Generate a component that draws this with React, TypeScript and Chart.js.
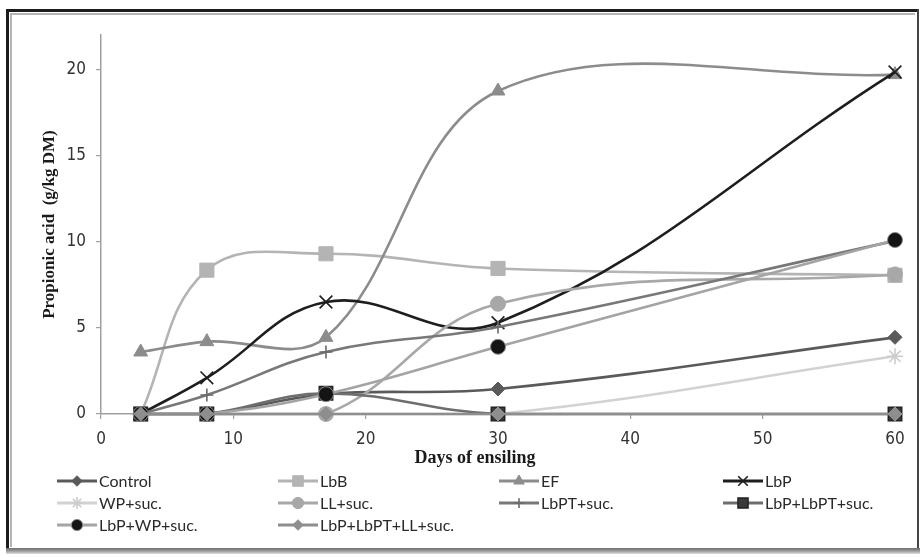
import React, { useEffect, useRef } from "react";
import { Chart, registerables } from "chart.js";
import { drawPoint } from "chart.js/helpers";

Chart.register(...registerables);

// ---- data ----
const days = [3, 8, 17, 30, 60];
const seriesNames = [
  "Control",
  "LbB",
  "EF",
  "LbP",
  "WP+suc.",
  "LL+suc.",
  "LbPT+suc.",
  "LbP+LbPT+suc.",
  "LbP+WP+suc.",
  "LbP+LbPT+LL+suc.",
];
const control = [0, 0, 1.15, 1.45, 4.45];
const lbB = [0, 8.35, 9.3, 8.45, 8.05];
const ef = [3.6, 4.2, 4.45, 18.75, 19.7];
const lbP = [0, 2.1, 6.5, 5.3, 19.85];
const wpSuc = [0, 0, 0, 0, 3.35];
const llSuc = [0, 0, 0, 6.4, 8.1];
const lbptSuc = [0, 1.1, 3.6, 5.05, 10.05];
const lbpLbptSuc = [0, 0, 1.2, 0, 0];
const lbpWpSuc = [0, 0, 1.15, 3.9, 10.1];
const lbpLbptLlSuc = [0, 0, 0, 0, 0];
const seriesValues = [control, lbB, ef, lbP, wpSuc, llSuc, lbptSuc, lbpLbptSuc, lbpWpSuc, lbpLbptLlSuc];
const xTicks = [0, 10, 20, 30, 40, 50, 60];
const yTicks = [0, 5, 10, 15, 20];
const xTitle = "Days of ensiling";
const yTitle = "Propionic acid  (g/kg DM)";

// ---- styles ----
const styles = [
  { line: "#5a5a5a", fill: "#5a5a5a", edge: "#5a5a5a", shape: "rectRot", r: 7, bw: 1, t: 0.4 },
  { line: "#b4b4b4", fill: "#b4b4b4", edge: "#b4b4b4", shape: "rect", r: 10, bw: 1, t: 0.4 },
  { line: "#8c8c8c", fill: "#8c8c8c", edge: "#8c8c8c", shape: "triangle", r: 8, bw: 1, t: 0.36 },
  { line: "#1e1e1e", fill: "#1e1e1e", edge: "#1e1e1e", shape: "crossRot", r: 9, bw: 1.6, t: 0.4 },
  { line: "#d2d2d2", fill: "#d2d2d2", edge: "#cccccc", shape: "star", r: 8, bw: 1.6, t: 0.4 },
  { line: "#a8a8a8", fill: "#a8a8a8", edge: "#a8a8a8", shape: "circle", r: 7.5, bw: 1, t: 0.4 },
  { line: "#787878", fill: "#787878", edge: "#6a6a6a", shape: "cross", r: 6.5, bw: 1.6, t: 0.4 },
  { line: "#6e6e6e", fill: "#3a3a3a", edge: "#222222", shape: "rect", r: 9.5, bw: 1.5, t: 0.4 },
  { line: "#a4a4a4", fill: "#141414", edge: "#8a8a8a", shape: "circle", r: 7.5, bw: 1, t: 0.4 },
  { line: "#8e8e8e", fill: "#8e8e8e", edge: "#8e8e8e", shape: "rectRot", r: 7, bw: 1, t: 0.4 },
];

const tickFont = "'Liberation Sans Narrow', 'DejaVu Sans Condensed', 'Liberation Sans', sans-serif";
const serifFont = "'Liberation Serif', 'DejaVu Serif', serif";
const legendFont = "Lato, 'Liberation Sans', sans-serif";

const legendCols = [99, 320, 541, 765];
const legendRows = [481, 503, 525];

const overlayPlugin = {
  id: "overlay",
  afterDraw(chart: any) {
    const ctx = chart.ctx as CanvasRenderingContext2D;
    const area = chart.chartArea;
    ctx.save();
    // axis titles
    ctx.fillStyle = "#1a1a1a";
    ctx.font = `bold 18px ${serifFont}`;
    ctx.textAlign = "center";
    ctx.textBaseline = "middle";
    ctx.fillText(xTitle, 475, 458);
    ctx.save();
    ctx.translate(50, (area.top + area.bottom) / 2);
    ctx.rotate(-Math.PI / 2);
    ctx.font = `bold 17px ${serifFont}`;
    ctx.fillText(yTitle, 0, 0);
    ctx.restore();

    // legend
    chart.data.datasets.forEach((ds: any, i: number) => {
      const st = styles[i];
      const tx = legendCols[i % 4];
      const ty = legendRows[Math.floor(i / 4)];
      ctx.strokeStyle = st.line;
      ctx.lineWidth = 3;
      ctx.beginPath();
      ctx.moveTo(tx - 42, ty);
      ctx.lineTo(tx - 2, ty);
      ctx.stroke();
      ctx.fillStyle = st.fill;
      ctx.strokeStyle = st.edge;
      ctx.lineWidth = st.bw;
      drawPoint(ctx, { pointStyle: st.shape, rotation: 0, radius: st.r * 0.75, borderWidth: st.bw } as any, tx - 22, ty);
      ctx.fillStyle = "#2a2a2a";
      ctx.font = `16px ${legendFont}`;
      ctx.textAlign = "left";
      ctx.textBaseline = "middle";
      ctx.fillText(ds.label, tx, ty + 1);
    });
    ctx.restore();
  },
};

export default function App() {
  const ref = useRef<HTMLCanvasElement | null>(null);
  useEffect(() => {
    if (!ref.current) return;
    const datasets = seriesNames.map((name, i) => {
      const st = styles[i];
      return {
        label: name,
        data: days.map((d, j) => ({ x: d, y: seriesValues[i][j] })),
        borderColor: st.line,
        backgroundColor: st.fill,
        borderWidth: 2.6,
        pointStyle: st.shape,
        pointRadius: st.r,
        pointBackgroundColor: st.fill,
        pointBorderColor: st.edge,
        pointBorderWidth: st.bw,
        tension: st.t,
        fill: false,
        clip: false,
        order: seriesNames.length - i,
      };
    });
    const chart = new Chart(ref.current, {
      type: "line",
      data: { datasets } as any,
      plugins: [overlayPlugin],
      options: {
        animation: false,
        responsive: false,
        events: [],
        layout: { padding: { top: 35, right: 25, left: 0, bottom: 0 } },
        plugins: { legend: { display: false }, tooltip: { enabled: false } },
        scales: {
          x: {
            type: "linear",
            min: 0,
            max: 60,
            afterFit: (s: any) => {
              s.height = 144;
            },
            afterBuildTicks: (s: any) => {
              s.ticks = xTicks.map((v) => ({ value: v }));
            },
            grid: { drawOnChartArea: false, drawTicks: true, tickLength: 5, color: "#a0a0a0", lineWidth: 1.2 },
            border: { display: true, color: "#a0a0a0", width: 1.5 },
            ticks: { color: "#333", font: { family: tickFont, size: 17 }, padding: 10, maxRotation: 0 },
          },
          y: {
            type: "linear",
            min: 0,
            max: 22,
            afterFit: (s: any) => {
              s.width = 101;
            },
            afterBuildTicks: (s: any) => {
              s.ticks = yTicks.map((v) => ({ value: v }));
            },
            grid: { drawOnChartArea: false, drawTicks: true, tickLength: 5, color: "#a0a0a0", lineWidth: 1.2 },
            border: { display: true, color: "#a0a0a0", width: 1.5 },
            ticks: { color: "#333", font: { family: tickFont, size: 17 }, padding: 10 },
          },
        },
      } as any,
    });
    return () => chart.destroy();
  }, []);

  return (
    <div style={{ position: "absolute", left: 0, top: 0, width: 920, height: 558, background: "#fff", overflow: "hidden" }}>
      <canvas ref={ref} width={920} height={558} style={{ position: "absolute", left: 0, top: 0, width: 920, height: 558 }} />
      <div style={{ position: "absolute", left: 6, top: 9, width: 913, height: 3, background: "#1c1c1c" }} />
      <div style={{ position: "absolute", left: 6, top: 9, width: 3, height: 541, background: "#1c1c1c" }} />
      <div style={{ position: "absolute", left: 917, top: 9, width: 2, height: 541, background: "#444" }} />
      <div style={{ position: "absolute", left: 10, top: 13, width: 905, height: 1.5, background: "#b4b4b4" }} />
      <div style={{ position: "absolute", left: 10, top: 13, width: 1.5, height: 534, background: "#b4b4b4" }} />
      <div style={{ position: "absolute", left: 6, top: 548, width: 914, height: 6, background: "linear-gradient(#6e6e6e, #9a9a9a 50%, #e0e0e0)" }} />
    </div>
  );
}
